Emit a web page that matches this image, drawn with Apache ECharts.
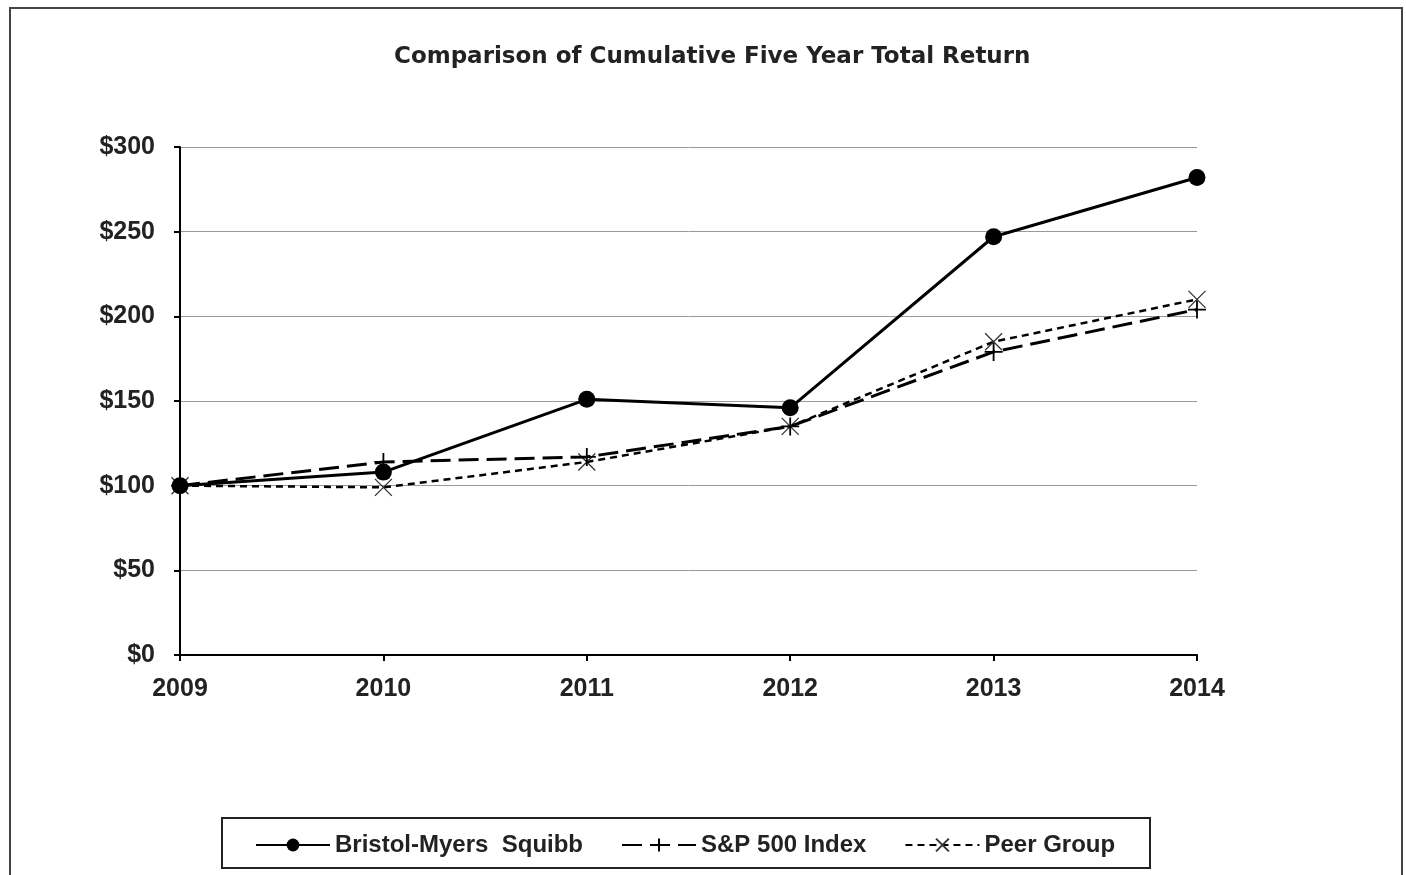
<!DOCTYPE html>
<html>
<head>
<meta charset="utf-8">
<script src="https://cdn.jsdelivr.net/npm/echarts@6/dist/echarts.min.js"></script>
<style>
html,body{margin:0;padding:0;background:#fff;}
#chart{width:1406px;height:875px;}
</style>
</head>
<body>
<div id="chart"></div>
<script>
const years = ['2009','2010','2011','2012','2013','2014'];
const bms = [100, 108, 151, 146, 247, 282];
const sp500 = [100, 114, 117, 135, 179, 204];
const peer = [100, 99, 114, 135, 185, 210];
const yTicks = [0, 50, 100, 150, 200, 250, 300];

const chart = echarts.init(document.getElementById('chart'));
const labelFont = 'Liberation Sans, Arial, sans-serif';
chart.setOption({
  animation: false,
  backgroundColor: '#fff',
  title: {
    text: 'Comparison of Cumulative Five Year Total Return',
    left: 389, top: 41,
    textStyle: {fontFamily: 'DejaVu Sans', fontWeight: 'bold', fontSize: 23, color: '#222'}
  },
  graphic: [
    {type: 'rect', shape: {x: 10, y: 8, width: 1392, height: 880}, style: {fill: 'none', stroke: '#444', lineWidth: 2}, silent: true},
    {type: 'rect', shape: {x: 222, y: 818, width: 928, height: 50}, style: {fill: 'none', stroke: '#222', lineWidth: 2}, silent: true}
  ],
  legend: {
    left: 250, top: 828,
    itemWidth: 74, itemHeight: 16, itemGap: 38,
    textStyle: {fontFamily: labelFont, fontWeight: 'bold', fontSize: 24, color: '#222'},
    data: ['Bristol-Myers  Squibb', 'S&P 500 Index', 'Peer Group']
  },
  grid: {left: 180, right: 209, top: 147, bottom: 220},
  xAxis: {
    type: 'category', data: years, boundaryGap: false,
    axisLine: {lineStyle: {color: '#000', width: 2}},
    axisTick: {show: true, length: 6, lineStyle: {color: '#000', width: 2}},
    axisLabel: {margin: 22, fontFamily: labelFont, fontWeight: 'bold', fontSize: 25, color: '#222'},
    splitLine: {show: false}
  },
  yAxis: {
    type: 'value', min: yTicks[0], max: yTicks[yTicks.length - 1], interval: 50,
    axisLine: {show: true, lineStyle: {color: '#000', width: 2}},
    axisTick: {show: true, length: 6, lineStyle: {color: '#000', width: 2}},
    axisLabel: {margin: 25, fontFamily: labelFont, fontWeight: 'bold', fontSize: 25, color: '#222', formatter: v => '$' + v},
    splitLine: {lineStyle: {color: '#9a9a9a', width: 1}}
  },
  series: [
    {
      name: 'Peer Group', type: 'line', data: peer, z: 3,
      symbol: 'path://M0,0L10,10M10,0L0,10', symbolSize: 17,
      lineStyle: {color: '#000', width: 2.5, type: [7, 5]},
      itemStyle: {color: '#000', borderColor: '#333', borderWidth: 1.3}
    },
    {
      name: 'S&P 500 Index', type: 'line', data: sp500, z: 4,
      symbol: 'path://M5,0L5,10M0,5L10,5', symbolSize: 18,
      lineStyle: {color: '#000', width: 3, type: [20, 8]},
      itemStyle: {color: '#000', borderColor: '#000', borderWidth: 1.8}
    },
    {
      name: 'Bristol-Myers  Squibb', type: 'line', data: bms, z: 5,
      symbol: 'circle', symbolSize: 17,
      lineStyle: {color: '#000', width: 3},
      itemStyle: {color: '#000', borderColor: '#000', borderWidth: 0}
    }
  ]
});
</script>
</body>
</html>
